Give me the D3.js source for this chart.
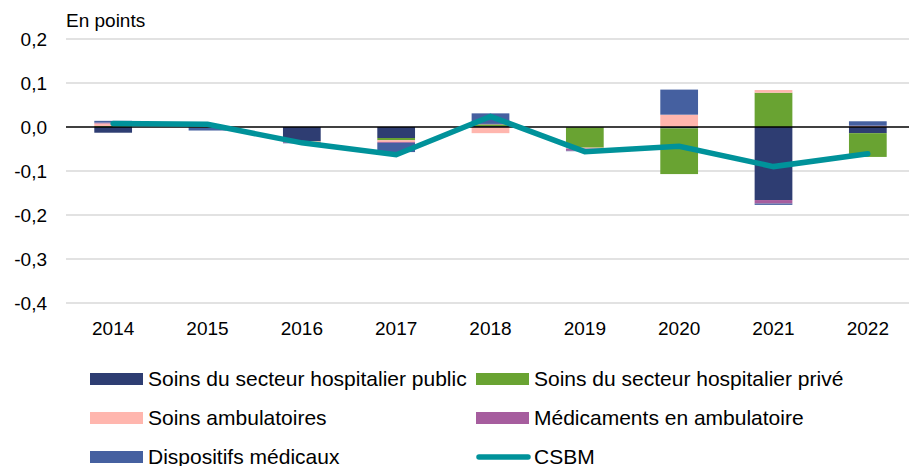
<!DOCTYPE html>
<html>
<head>
<meta charset="utf-8">
<script src="https://cdn.jsdelivr.net/npm/d3@7"></script>
<style>
  body { margin: 0; background: #fff; }
  svg { font-family: "Liberation Sans", Arial, sans-serif; }
</style>
</head>
<body>
<div id="chart"></div>
<script>
const years = ["2014", "2015", "2016", "2017", "2018", "2019", "2020", "2021", "2022"]
const publicHosp = [-0.013, 0.000, -0.032, -0.025, 0.002, -0.001, -0.003, -0.166, -0.014]
const priveHosp = [0.002, -0.001, -0.001, -0.005, 0.004, -0.046, -0.104, 0.078, -0.054]
const ambulatoires = [0.006, 0.002, -0.001, -0.004, -0.014, -0.002, 0.028, 0.006, 0.002]
const medicaments = [0.002, -0.001, -0.002, -0.002, 0.001, -0.005, 0.000, -0.008, 0.001]
const dispositifs = [0.004, -0.006, -0.001, -0.021, 0.024, -0.001, 0.057, -0.003, 0.010]
const csbm = [0.008, 0.006, -0.036, -0.063, 0.024, -0.056, -0.044, -0.090, -0.061]
const yTicks = [0.2, 0.1, 0, -0.1, -0.2, -0.3, -0.4]

const series = [
  { key: "public", name: "Soins du secteur hospitalier public", values: publicHosp, color: "#2E3D72" },
  { key: "prive", name: "Soins du secteur hospitalier privé", values: priveHosp, color: "#69A332" },
  { key: "amb", name: "Soins ambulatoires", values: ambulatoires, color: "#FFB6AE" },
  { key: "med", name: "Médicaments en ambulatoire", values: medicaments, color: "#A65D9E" },
  { key: "disp", name: "Dispositifs médicaux", values: dispositifs, color: "#4560A0" }
]
const lineColor = "#00929A"

const width = 909
const height = 466

const svg = d3.select("#chart")
  .append("svg")
  .attr("width", width)
  .attr("height", height)

const x = d3.scaleBand()
  .domain(years)
  .range([66, 915])
  .paddingInner(0.6)
  .paddingOuter(0.3)

const y = d3.scaleLinear()
  .domain([-0.4, 0.2])
  .range([303, 39])

// grid + y labels
svg.append("g")
  .selectAll("line")
  .data(yTicks.filter(d => d !== 0))
  .join("line")
  .attr("x1", 66)
  .attr("x2", width)
  .attr("y1", d => y(d))
  .attr("y2", d => y(d))
  .attr("stroke", "#D9D9D9")
  .attr("stroke-width", 1.5)

svg.append("g")
  .selectAll("text")
  .data(yTicks)
  .join("text")
  .attr("x", 47)
  .attr("y", d => y(d))
  .attr("dy", "0.35em")
  .attr("text-anchor", "end")
  .style("font-size", "19px")
  .attr("fill", "#000")
  .text(d => d3.format(".1f")(d).replace(".", ",").replace("−", "-"))

svg.append("text")
  .attr("x", 66)
  .attr("y", 27)
  .style("font-size", "19px")
  .text("En points")

// stacked bars
const rows = years.map((yr, i) => {
  const r = { year: yr }
  series.forEach(s => { r[s.key] = s.values[i] })
  return r
})

const stack = d3.stack()
  .keys(series.map(s => s.key))
  .offset(d3.stackOffsetDiverging)

const stacked = stack(rows)

svg.append("g")
  .selectAll("g")
  .data(stacked)
  .join("g")
  .attr("fill", (d, i) => series[i].color)
  .selectAll("rect")
  .data(d => d)
  .join("rect")
  .attr("x", d => x(d.data.year))
  .attr("width", x.bandwidth())
  .attr("y", d => y(Math.max(d[0], d[1])))
  .attr("height", d => Math.abs(y(d[0]) - y(d[1])))

// zero line
svg.append("line")
  .attr("x1", 66)
  .attr("x2", width)
  .attr("y1", y(0))
  .attr("y2", y(0))
  .attr("stroke", "#000")
  .attr("stroke-width", 1.5)

// CSBM line
const line = d3.line()
  .x((d, i) => x(years[i]) + x.bandwidth() / 2)
  .y(d => y(d))

svg.append("path")
  .datum(csbm)
  .attr("d", line)
  .attr("fill", "none")
  .attr("stroke", lineColor)
  .attr("stroke-width", 5.5)
  .attr("stroke-linecap", "round")

// x labels
svg.append("g")
  .selectAll("text")
  .data(years)
  .join("text")
  .attr("x", d => x(d) + x.bandwidth() / 2)
  .attr("y", 335)
  .attr("text-anchor", "middle")
  .style("font-size", "19px")
  .text(d => d)

// legend
const legendItems = [
  { name: series[0].name, color: series[0].color, type: "rect", col: 0, row: 0 },
  { name: series[1].name, color: series[1].color, type: "rect", col: 1, row: 0 },
  { name: series[2].name, color: series[2].color, type: "rect", col: 0, row: 1 },
  { name: series[3].name, color: series[3].color, type: "rect", col: 1, row: 1 },
  { name: series[4].name, color: series[4].color, type: "rect", col: 0, row: 2 },
  { name: "CSBM", color: lineColor, type: "line", col: 1, row: 2 }
]
const colX = [90, 476]
const rowY = [379, 418, 457]

const legend = svg.append("g").attr("class", "legend")

legendItems.forEach(item => {
  const g = legend.append("g")
    .attr("transform", `translate(${colX[item.col]}, ${rowY[item.row]})`)

  if (item.type === "rect") {
    g.append("rect")
      .attr("x", 0)
      .attr("y", -6)
      .attr("width", 53)
      .attr("height", 12)
      .attr("fill", item.color)
  } else {
    g.append("line")
      .attr("x1", 3)
      .attr("x2", 52)
      .attr("y1", 0)
      .attr("y2", 0)
      .attr("stroke", item.color)
      .attr("stroke-width", 5.5)
      .attr("stroke-linecap", "round")
  }

  g.append("text")
    .attr("x", 58)
    .attr("y", 7)
    .style("font-size", "21px")
    .text(item.name)
})
</script>
</body>
</html>
